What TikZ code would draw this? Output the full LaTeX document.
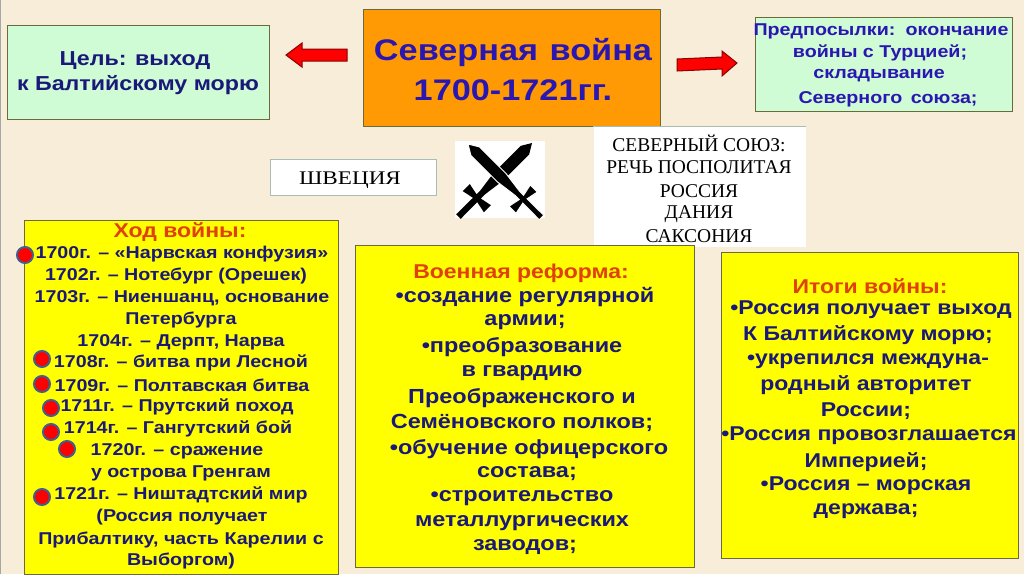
\documentclass[tikz,border=0pt]{standalone}
\usepackage{fontspec}
\setmainfont[FakeStretch=1.15]{Liberation Sans}
\newfontfamily\serifrm{Liberation Serif}
\newfontfamily\serifw[FakeStretch=1.2]{Liberation Serif}
\definecolor{bg}{HTML}{F8EDD8}
\definecolor{ink}{HTML}{1A1878}
\definecolor{titleink}{HTML}{2A16B0}
\definecolor{head}{HTML}{E0400A}
\definecolor{yel}{HTML}{FFFF00}
\definecolor{mint}{HTML}{CFFBD5}
\definecolor{org}{HTML}{FF9A05}
\definecolor{edge}{HTML}{6A6A3A}
\definecolor{dotedge}{HTML}{3F5F8F}
\definecolor{shv}{HTML}{A8BDB8}
\tikzset{
  panel/.style={draw=edge,line width=1pt,inner sep=0pt,anchor=north west},
  ybox/.style={panel,fill=yel},
  gbox/.style={panel,fill=mint},
  whitebox/.style={draw=shv,line width=1.2pt,fill=white,inner sep=0pt,anchor=north west},
  ln/.style={inner sep=0pt,font=\fontsize{17.1}{18}\selectfont\bfseries,text=ink},
  hd/.style={inner sep=0pt,font=\fontsize{20}{22}\selectfont\bfseries,text=head},
  lnm/.style={inner sep=0pt,font=\fontsize{20.4}{22}\selectfont\bfseries,text=ink},
  lnr/.style={inner sep=0pt,font=\fontsize{20}{22}\selectfont\bfseries,text=ink},
  gt/.style={inner sep=0pt,font=\fontsize{20.2}{21}\selectfont\bfseries,text=ink},
  prt/.style={inner sep=0pt,font=\fontsize{17.1}{19}\selectfont\bfseries,text=titleink},
  ttl/.style={inner sep=0pt,font=\fontsize{29.8}{31}\selectfont\bfseries,text=titleink},
  ser/.style={inner sep=0pt,font=\serifrm\fontsize{19.5}{20}\selectfont,text=black},
  dot/.style={circle,fill=red,draw=dotedge,line width=2pt,minimum size=16pt,inner sep=0pt},
  bigarrow/.style={fill=red,draw=red!55!black,line width=1pt},
  bladeA/.style={fill=black,draw=white,line width=1pt},
  bladeB/.style={fill=black},
}
\newcommand{\swordshape}[1]{%
  \path[#1] (0,0)--(10,-6)--(48,-6)--(70,-3)--(75.5,-3)--(73,-15)--(83,-15)--(80.5,-3)--(104,-3.2)--(104,3.2)--(80.5,3)--(83,15)--(73,15)--(75.5,3)--(70,3)--(48,6)--(10,6)--cycle;}
\begin{document}
\begin{tikzpicture}[x=1pt,y=-1pt]
\useasboundingbox (0,0) rectangle (1024,574);
\fill[bg] (0,0) rectangle (1024,574);
\fill[gray!70] (0,0) rectangle (1.2,574);

% top row
\node[gbox,minimum width=262pt,minimum height=94pt] (goal) at (7,25) {};
\node[panel,fill=org,minimum width=297pt,minimum height=117pt] (main) at (363,9) {};
\node[gbox,minimum width=257pt,minimum height=94pt] (pre) at (755,17) {};
\node[gt] (g1) at (135,61) {Цель: выход};
\node[gt] (g2) at (138,85) {к Балтийскому морю};
\node[ttl] (m1) at (513,52) {Северная\hspace{2pt} война};
\node[ttl] (m2) at (513,90) {1700-1721гг.};
\node[prt] (p1) at (881,31) {Предпосылки:\hspace{3pt} окончание};
\node[prt] (p2) at (880,53) {войны с Турцией;};
\node[prt] (p3) at (879,76) {складывание};
\node[prt] (p4) at (888,99) {Северного\hspace{3pt} союза;};
\draw[bigarrow] (286,55)--(302,43)--(302,49)--(347,49)--(347,61)--(302,61)--(302,67)--cycle;
\draw[bigarrow] (737,63)--(722,51)--(722,57)--(677,59)--(677,71)--(722,69)--(722,76)--cycle;

% middle row
\node[whitebox,minimum width=166pt,minimum height=36pt] (sw) at (270,159) {};
\node[inner sep=0pt,font=\serifw\fontsize{19.3}{22}\selectfont] (swt) at (350,180) {ШВЕЦИЯ};
\node[fill=white,inner sep=0pt,anchor=north west,minimum width=90pt,minimum height=77pt] (swords) at (455,141) {};
\begin{scope}[shift={(532,143)},rotate=-135]\swordshape{bladeB}\end{scope}
\begin{scope}[shift={(468,144)},rotate=-45]\swordshape{bladeA}\end{scope}
\node[whitebox,draw=none,minimum width=212pt,minimum height=120pt] (un) at (593,126) {};
\draw[shv,line width=1pt] (un.north west)--(un.north east);
\node[ser] (u1) at (699,143) {СЕВЕРНЫЙ СОЮЗ:};
\node[ser] (u2) at (699,167) {РЕЧЬ ПОСПОЛИТАЯ};
\node[ser] (u3) at (699,191) {РОССИЯ};
\node[ser] (u4) at (699,214) {ДАНИЯ};
\node[ser] (u5) at (699,236) {САКСОНИЯ};

% yellow panels
\node[ybox,minimum width=314pt,minimum height=354pt] (left) at (24,220) {};
\node[ybox,minimum width=339pt,minimum height=322pt] (mid) at (355,245) {};
\node[ybox,minimum width=297pt,minimum height=306pt] (right) at (721,252) {};

% left panel text
\node[hd] (l0) at (180,232) {Ход войны:};
\node[ln] (l1) at (182,254) {1700г. – «Нарвская конфузия»};
\node[ln] (l2) at (176,276) {1702г. – Нотебург (Орешек)};
\node[ln] (l3) at (182,298) {1703г. – Ниеншанц, основание};
\node[ln] (l4) at (181,320) {Петербурга};
\node[ln] (l5) at (181,342) {1704г. – Дерпт, Нарва};
\node[ln] (l6) at (181,363) {1708г. – битва при Лесной};
\node[ln] (l7) at (182,385) {1709г. – Полтавская битва};
\node[ln] (l8) at (177,407) {1711г. – Прутский  поход};
\node[ln] (l9) at (178,429) {1714г. – Гангутский  бой};
\node[ln] (l10) at (177,451) {1720г. – сражение};
\node[ln] (l11) at (181,473) {у острова Гренгам};
\node[ln] (l12) at (181,495) {1721г. – Ништадтский  мир};
\node[ln] (l13) at (182,517) {(Россия  получает};
\node[ln] (l14) at (181,540) {Прибалтику,  часть Карелии  с};
\node[ln] (l15) at (181,561) {Выборгом)};

\node[dot] (d1) at (25,255) {};
\node[dot] (d2) at (42,359) {};
\node[dot] (d3) at (42,384) {};
\node[dot] (d4) at (51,408) {};
\node[dot] (d5) at (51,432) {};
\node[dot] (d6) at (67,449) {};
\node[dot] (d7) at (42,497) {};

% middle panel text
\node[hd] (c0) at (521,273) {Военная реформа:};
\node[lnm] (c1) at (525,297) {•создание регулярной};
\node[lnm] (c2) at (525,322) {армии;};
\node[lnm] (c3) at (522,347) {•преобразование};
\node[lnm] (c4) at (522,373) {в гвардию};
\node[lnm] (c5) at (522,398) {Преображенского и};
\node[lnm] (c6) at (522,423) {Семёновского полков;};
\node[lnm] (c7) at (529,449) {•обучение офицерского};
\node[lnm] (c8) at (527,474) {состава;};
\node[lnm] (c9) at (522,498) {•строительство};
\node[lnm] (c10) at (522,523) {металлургических};
\node[lnm] (c11) at (525,547) {заводов;};

% right panel text
\node[hd] (r0) at (870,286) {Итоги войны:};
\node[lnr] (r1) at (871,310) {•Россия получает выход};
\node[lnr] (r2) at (868,335) {К Балтийскому морю;};
\node[lnr] (r3) at (868,361) {•укрепился междуна-};
\node[lnr] (r4) at (866,385) {родный авторитет};
\node[lnr] (r5) at (866,411) {России;};
\node[lnr] (r6) at (869,436) {•Россия провозглашается};
\node[lnr] (r7) at (866,462) {Империей;};
\node[lnr] (r8) at (866,486) {•Россия – морская};
\node[lnr] (r9) at (866,511) {держава;};
\end{tikzpicture}
\end{document}
